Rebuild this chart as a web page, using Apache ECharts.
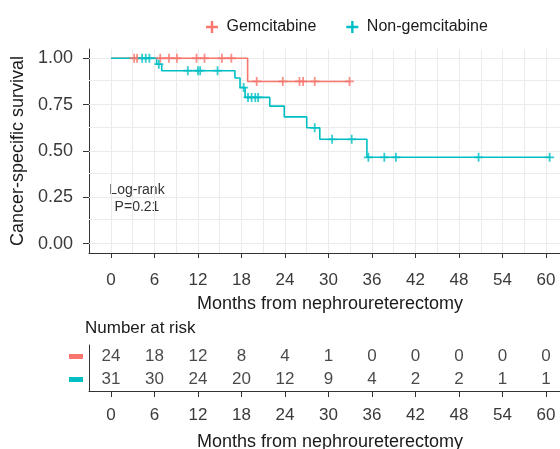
<!DOCTYPE html>
<html>
<head>
<meta charset="utf-8">
<script src="https://cdn.jsdelivr.net/npm/echarts@6/dist/echarts.min.js"></script>
<style>html,body{margin:0;padding:0;background:#fff;}#c{width:560px;height:449px;}</style>
</head>
<body>
<div id="c"></div>
<script>
// ---- data ----
const timeTicks = [0, 6, 12, 18, 24, 30, 36, 42, 48, 54, 60];
const timeMinor = [3, 9, 15, 21, 27, 33, 39, 45, 51, 57];
const survTicks = [0, 0.25, 0.5, 0.75, 1];
const survMinor = [0.125, 0.375, 0.625, 0.875];

const gemCurveT = [0, 18.85, 33.0];
const gemCurveS = [1.0, 0.875, 0.875];
const gemCensorT = [3.2, 3.6, 6.8, 8.0, 9.1, 11.8, 12.9, 15.3, 16.6, 20.1, 23.7, 26.0, 26.5, 28.1, 32.9];

const nonCurveT = [0, 6.3, 7.0, 17.1, 17.8, 18.5, 21.9, 23.9, 27.0, 28.8, 35.3, 60.6];
const nonCurveS = [1.0, 0.968, 0.933, 0.894, 0.842, 0.789, 0.742, 0.684, 0.625, 0.563, 0.466, 0.466];
const nonCensorT = [4.3, 4.8, 5.3, 6.6, 10.6, 12.0, 12.3, 14.7, 18.3, 18.9, 19.4, 19.9, 20.3, 28.1, 30.5, 33.2, 35.5, 37.7, 39.3, 50.7, 60.5];

const riskGroups = ['Gemcitabine', 'Non-gemcitabine'];
const gemRisk = [24, 18, 12, 8, 4, 1, 0, 0, 0, 0, 0];
const nonRisk = [31, 30, 24, 20, 12, 9, 4, 2, 2, 1, 1];

// ---- helpers ----
function survAt(T, S, t) { let s = S[0]; for (let i = 0; i < T.length; i++) { if (T[i] <= t) s = S[i]; } return s; }
const RED = '#F8766D', TEAL = '#00BFC4';
const PLUS = 'path://M-0.2,-1H0.2V-0.2H1V0.2H0.2V1H-0.2V0.2H-1V-0.2H-0.2Z';
const FONT = 'Liberation Sans';
const XMIN = -3.03, XMAX = 61.93;

const chart = echarts.init(document.getElementById('c'));
const gridLines = [].concat(
  survTicks.concat(survMinor).map(v => ({ yAxis: v })),
  timeTicks.concat(timeMinor).map(v => ({ xAxis: v }))
);

const tickLabelStyle = { fontSize: 17, color: '#3a3a3a' };
const titleStyle = { fontSize: 18, color: '#1a1a1a', padding: [0, 0, 0, 11] };

chart.setOption({
  animation: false,
  textStyle: { fontFamily: FONT },
  legend: {
    left: 201, top: 14, itemWidth: 13, itemHeight: 12, itemGap: 30,
    textStyle: { fontSize: 16, color: '#1a1a1a', fontFamily: FONT, padding: [0, 0, 0, 3] },
    data: [{ name: 'Gemcitabine', icon: PLUS }, { name: 'Non-gemcitabine', icon: PLUS }]
  },
  grid: [
    { left: 89, top: 49, right: 0, height: 204, outerBoundsMode: 'none', containLabel: false },
    { left: 89, top: 345, right: 0, height: 46, outerBoundsMode: 'none', containLabel: false }
  ],
  xAxis: [
    {
      type: 'value', gridIndex: 0, min: XMIN, max: XMAX,
      axisLine: { show: true, onZero: false, lineStyle: { color: '#333', width: 1 } },
      axisTick: { show: true, customValues: timeTicks, length: 5, lineStyle: { color: '#333' } },
      axisLabel: Object.assign({ customValues: timeTicks, margin: 19 }, tickLabelStyle),
      splitLine: { show: false },
      name: 'Months from nephroureterectomy', nameLocation: 'middle', nameGap: 42,
      nameTextStyle: titleStyle
    },
    {
      type: 'value', gridIndex: 1, min: XMIN, max: XMAX,
      axisLine: { show: true, onZero: false, lineStyle: { color: '#333', width: 1 } },
      axisTick: { show: true, customValues: timeTicks, length: 6, lineStyle: { color: '#333' } },
      axisLabel: Object.assign({ customValues: timeTicks, margin: 16 }, tickLabelStyle),
      splitLine: { show: false },
      name: 'Months from nephroureterectomy', nameLocation: 'middle', nameGap: 42,
      nameTextStyle: titleStyle
    }
  ],
  yAxis: [
    {
      type: 'value', gridIndex: 0, min: -0.05, max: 1.05,
      axisLine: { show: true, onZero: false, lineStyle: { color: '#333', width: 1 } },
      axisTick: { show: true, customValues: survTicks, length: 6, lineStyle: { color: '#333' } },
      axisLabel: Object.assign({ customValues: survTicks, formatter: v => v.toFixed(2), margin: 16 }, tickLabelStyle, { fontSize: 18 }),
      splitLine: { show: false },
      name: 'Cancer-specific survival', nameLocation: 'middle', nameGap: 58, nameRotate: 90,
      nameTextStyle: { fontSize: 18, color: '#1a1a1a' }
    },
    {
      type: 'category', gridIndex: 1, data: riskGroups, inverse: true,
      axisLine: { show: true, onZero: false, lineStyle: { color: '#333', width: 1 } },
      axisTick: { show: false },
      axisLabel: {
        margin: 6,
        formatter: v => v === 'Gemcitabine' ? '{r|}' : '{t|}',
        rich: {
          r: { backgroundColor: RED, width: 14, height: 5 },
          t: { backgroundColor: TEAL, width: 14, height: 5 }
        }
      },
      splitLine: { show: false }
    }
  ],
  graphic: [
    { type: 'text', left: 85, top: 320, style: { text: 'Number at risk', fontSize: 17, fill: '#1a1a1a', fontFamily: FONT } },
    { type: 'text', x: 137, y: 182, style: { text: 'Log-rank\nP=0.21', fontSize: 14, lineHeight: 17, fill: '#333', align: 'center', fontFamily: FONT } }
  ],
  series: [
    {
      type: 'line', xAxisIndex: 0, yAxisIndex: 0, data: [], silent: true, z: 1,
      markLine: { z: 1, silent: true, symbol: 'none', label: { show: false }, lineStyle: { color: '#EBEBEB', type: 'solid', width: 1 }, data: gridLines }
    },
    {
      name: 'Gemcitabine', type: 'line', step: 'end', xAxisIndex: 0, yAxisIndex: 0, z: 3,
      showSymbol: false, symbol: 'none', color: RED, lineStyle: { color: RED, width: 1.6 },
      data: gemCurveT.map((t, i) => [t, gemCurveS[i]])
    },
    {
      name: 'Gemcitabine', type: 'scatter', xAxisIndex: 0, yAxisIndex: 0, z: 4,
      symbol: PLUS, symbolSize: 9, itemStyle: { color: RED },
      data: gemCensorT.map(t => [t, survAt(gemCurveT, gemCurveS, t)])
    },
    {
      name: 'Non-gemcitabine', type: 'line', step: 'end', xAxisIndex: 0, yAxisIndex: 0, z: 3,
      showSymbol: false, symbol: 'none', color: TEAL, lineStyle: { color: TEAL, width: 1.6 },
      data: nonCurveT.map((t, i) => [t, nonCurveS[i]])
    },
    {
      name: 'Non-gemcitabine', type: 'scatter', xAxisIndex: 0, yAxisIndex: 0, z: 4,
      symbol: PLUS, symbolSize: 9, itemStyle: { color: TEAL },
      data: nonCensorT.map(t => [t, survAt(nonCurveT, nonCurveS, t)])
    },
    {
      type: 'scatter', xAxisIndex: 1, yAxisIndex: 1, symbolSize: 1, itemStyle: { color: 'rgba(0,0,0,0)' }, silent: true,
      label: { show: true, position: 'inside', formatter: p => String(p.value[2]), fontSize: 17, color: '#1a1a1a' },
      data: timeTicks.map((t, i) => [t, riskGroups[0], gemRisk[i]])
    },
    {
      type: 'scatter', xAxisIndex: 1, yAxisIndex: 1, symbolSize: 1, itemStyle: { color: 'rgba(0,0,0,0)' }, silent: true,
      label: { show: true, position: 'inside', formatter: p => String(p.value[2]), fontSize: 17, color: '#1a1a1a' },
      data: timeTicks.map((t, i) => [t, riskGroups[1], nonRisk[i]])
    }
  ]
});
</script>
</body>
</html>
